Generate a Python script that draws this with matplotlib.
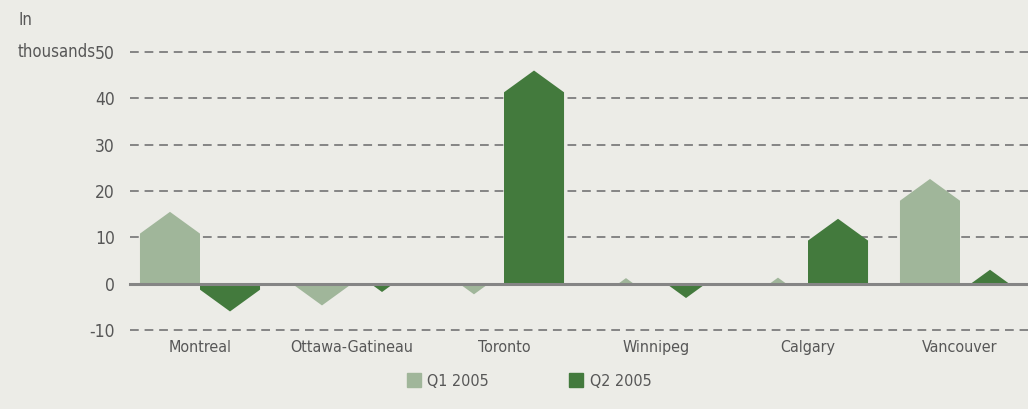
import matplotlib
matplotlib.use("Agg")
import matplotlib.pyplot as plt
from matplotlib.patches import Polygon, Patch
import numpy as np

plt.rcParams['font.family'] = ['DejaVu Sans']
plt.rcParams['font.stretch'] = 'condensed'

# Net change by metro area, in thousands
cities = ["Montreal", "Ottawa-Gatineau", "Toronto", "Winnipeg", "Calgary", "Vancouver"]
q1_2005 = [15.5, -4.7, -2.3, 1.2, 1.3, 22.6]
q2_2005 = [-6.0, -1.8, 46.0, -3.1, 14.0, 3.0]
series_labels = ["Q1 2005", "Q2 2005"]
y_ticks = [-10, 0, 10, 20, 30, 40, 50]

C_Q1   = "#a0b69a"
C_Q2   = "#437a3d"
C_BG   = "#ecece7"
C_TEXT = "#575757"
C_GRID = "#858585"

BAR_W = 0.395     # width of each bar, in category units
PEAK  = 4.7       # height of the pointed cap, in data units


def arrow_bar(ax, x, v, color):
    """Bar whose end is a pointed cap; short bars become plain triangles."""
    x0, x1 = x - BAR_W / 2, x + BAR_W / 2
    sgn = 1 if v >= 0 else -1
    if abs(v) >= PEAK:
        shoulder = v - sgn * PEAK
        pts = [(x0, 0), (x0, shoulder), (x, v), (x1, shoulder), (x1, 0)]
    else:
        hw = (BAR_W / 2) * abs(v) / PEAK
        pts = [(x - hw, 0), (x, v), (x + hw, 0)]
    ax.add_patch(Polygon(pts, closed=True, facecolor=color, edgecolor="none", zorder=3))


fig = plt.figure(figsize=(10.28, 4.09), dpi=100)
fig.patch.set_facecolor(C_BG)
ax = fig.add_axes([130 / 1028, 1 - 330 / 409, 1 - 130 / 1028, (330 - 52) / 409])
ax.set_facecolor(C_BG)

x = np.arange(len(cities))
for i in x:
    arrow_bar(ax, i - BAR_W / 2, q1_2005[i], C_Q1)
    arrow_bar(ax, i + BAR_W / 2, q2_2005[i], C_Q2)

# dashed gridlines, solid zero line
for t in y_ticks:
    if t == 0:
        ax.axhline(0, color=C_GRID, lw=2.2, zorder=4, clip_on=False)
    else:
        ax.axhline(t, color=C_GRID, lw=1.4, ls=(0, (4.5, 3)), zorder=1, clip_on=False)

ax.set_xlim(-70 / 152, (1028 - 200) / 152)
ax.set_ylim(-10, 50)
ax.set_yticks(y_ticks)
ax.set_yticklabels([str(t) for t in y_ticks], fontsize=12.5, color=C_TEXT)
ax.tick_params(axis="y", length=0, pad=11)
ax.set_xticks(x)
ax.set_xticklabels(cities, fontsize=11.5, color=C_TEXT)
ax.tick_params(axis="x", length=0, pad=7)
for s in ax.spines.values():
    s.set_visible(False)

fig.text(18 / 1028, 1 - 20 / 409, "In", fontsize=12, color=C_TEXT, ha="left", va="center")
fig.text(18 / 1028, 1 - 52 / 409, "thousands", fontsize=12, color=C_TEXT, ha="left", va="center")

handles = [Patch(color=C_Q1, label=series_labels[0]), Patch(color=C_Q2, label=series_labels[1])]
fig.legend(handles=handles, loc="center", bbox_to_anchor=(529 / 1028, 1 - 381 / 409),
           ncol=2, frameon=False, fontsize=11.5, handlelength=0.9, handleheight=0.9,
           handletextpad=0.4, columnspacing=5.0, labelcolor=C_TEXT)

fig.savefig("out.png", dpi=100, facecolor=C_BG)
